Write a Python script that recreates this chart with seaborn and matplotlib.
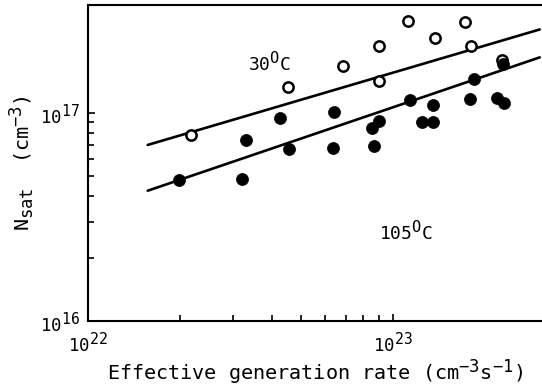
import matplotlib
matplotlib.use("Agg")
import matplotlib.pyplot as plt
import matplotlib.ticker as mticker
import numpy as np
import pandas as pd
import seaborn as sns

try:
    import matplotlib._mathtext as _mt
    _mt.SHRINK_FACTOR = 0.85
except Exception:
    pass

# ---- data ----
rate_30C = [1.12e23, 1.73e23, 1.37e23, 9.0e22, 1.80e23, 6.84e22, 2.28e23, 4.54e22, 9.0e22, 2.17e22]
nsat_30C = [2.77e17, 2.74e17, 2.29e17, 2.10e17, 2.11e17, 1.69e17, 1.80e17, 1.33e17, 1.43e17, 7.87e16]

rate_105C = [1.99e22, 3.21e22, 3.29e22, 4.26e22, 4.57e22, 6.39e22, 6.34e22, 8.69e22, 8.56e22, 8.98e22,
             1.137e23, 1.248e23, 1.356e23, 1.356e23, 1.79e23, 1.84e23, 2.30e23, 2.20e23, 2.32e23]
nsat_105C = [4.76e16, 4.80e16, 7.42e16, 9.46e16, 6.71e16, 1.008e17, 6.76e16, 6.96e16, 8.5e16, 9.18e16,
             1.159e17, 9.02e16, 9.02e16, 1.096e17, 1.164e17, 1.456e17, 1.72e17, 1.178e17, 1.12e17]

fit_rate = [1.57e22, 3.03e23]
fit_30C = [7.02e16, 2.52e17]
fit_105C = [4.23e16, 1.85e17]

x_ticks = [1e22, 1e23]
x_ticklabels = ["$10^{22}$", "$10^{23}$"]
y_ticks = [1e16, 1e17]
y_ticklabels = ["$10^{16}$", "$10^{17}$"]

label_30C = "30$^{\\mathrm{O}}$C"
label_105C = "105$^{\\mathrm{O}}$C"
xlabel = "Effective generation rate (cm$^{-3}$s$^{-1}$)"
ylabel = "N$_{\\mathrm{sat}}$  (cm$^{-3}$)"

df_open = pd.DataFrame({"rate": rate_30C, "nsat": nsat_30C})
df_fill = pd.DataFrame({"rate": rate_105C, "nsat": nsat_105C})
df_fit = pd.DataFrame({
    "rate": fit_rate * 2,
    "nsat": fit_30C + fit_105C,
    "series": ["30"] * 2 + ["105"] * 2,
})

sns.set_style("white")
fam = "DejaVu Sans Mono"
plt.rcParams["font.family"] = [fam, "DejaVu Sans"]
plt.rcParams["mathtext.fontset"] = "custom"
plt.rcParams["mathtext.rm"] = fam
plt.rcParams["mathtext.it"] = fam
plt.rcParams["mathtext.bf"] = fam
for k in ["text.color", "axes.labelcolor", "xtick.color", "ytick.color", "axes.edgecolor"]:
    plt.rcParams[k] = "black"

fig = plt.figure(figsize=(5.42, 3.89), dpi=100)
ax = fig.add_axes([88 / 542, 1 - 321 / 389, 1 - 88 / 542, (321 - 5) / 389])

sns.lineplot(data=df_fit, x="rate", y="nsat", units="series", estimator=None,
             color="black", lw=1.9, ax=ax, legend=False)
sns.scatterplot(data=df_open, x="rate", y="nsat", marker="o", s=55,
                facecolor="white", edgecolor="black", linewidth=1.8, ax=ax, zorder=3)
sns.scatterplot(data=df_fill, x="rate", y="nsat", marker="o", s=75,
                color="black", edgecolor="black", linewidth=0.5, ax=ax, zorder=4)

ax.set_xscale("log")
ax.set_yscale("log")
ax.set_xlim(1e22, 10 ** 23.489)
ax.set_ylim(1e16, 10 ** 17.519)

ax.xaxis.set_major_locator(mticker.FixedLocator(x_ticks))
ax.xaxis.set_minor_locator(mticker.FixedLocator([k * x_ticks[0] for k in range(2, 10)]))
ax.yaxis.set_major_locator(mticker.FixedLocator(y_ticks))
ax.yaxis.set_minor_locator(mticker.FixedLocator([k * y_ticks[0] for k in range(2, 10)]))
ax.xaxis.set_major_formatter(mticker.FixedFormatter(x_ticklabels))
ax.yaxis.set_major_formatter(mticker.FixedFormatter(y_ticklabels))
ax.xaxis.set_minor_formatter(mticker.NullFormatter())
ax.yaxis.set_minor_formatter(mticker.NullFormatter())

ax.tick_params(which="both", direction="in", color="black", labelsize=12.5, width=1.2,
               bottom=True, left=True, top=False, right=False)
ax.tick_params(which="major", length=5)
ax.tick_params(which="minor", length=4)
ax.tick_params(axis="x", pad=7)
ax.tick_params(axis="y", pad=6)

for side in ["left", "bottom", "top"]:
    ax.spines[side].set_visible(True)
    ax.spines[side].set_color("black")
    ax.spines[side].set_linewidth(1.5)
ax.spines["right"].set_visible(False)

ax.set_xlabel(xlabel, fontsize=14.5, labelpad=2)
ax.set_ylabel(ylabel, fontsize=14.5, labelpad=2)

ax.text(3.95e22, 1.76e17, label_30C, fontsize=13, ha="center", va="center")
ax.text(1.1e23, 2.71e16, label_105C, fontsize=13, ha="center", va="center")

fig.savefig("out.png", dpi=100)
